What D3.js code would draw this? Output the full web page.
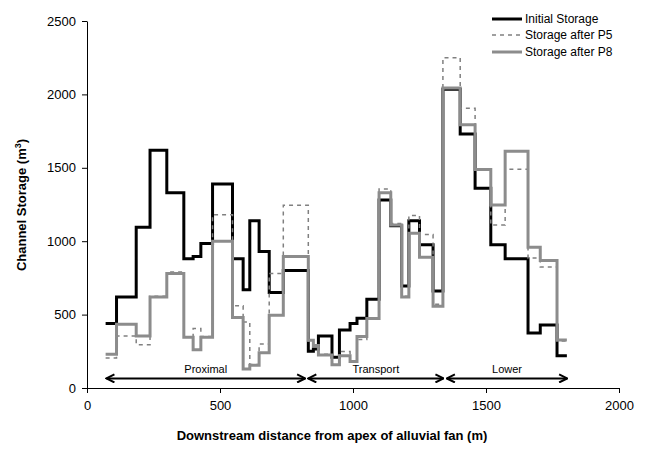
<!DOCTYPE html>
<html><head><meta charset="utf-8">
<script src="https://cdn.jsdelivr.net/npm/d3@7"></script>
<style>body{margin:0;background:#fff}</style>
</head><body>
<svg id="c" width="650" height="450"></svg>
<script>
// segment edges (m)
const edges = [70,111,185,237,300,364,399,428,472,547,587,612,647,685,738,832,851,870,921,949,989,1015,1052,1098,1142,1183,1210,1250,1301,1338,1403,1459,1518,1572,1658,1704,1767,1804];
const initialStorage = [440,620,1095,1620,1330,880,895,985,1390,880,670,1140,930,650,800,250,265,355,210,395,440,475,605,1280,1105,695,1140,975,660,2035,1730,1360,975,880,375,430,220];
const storageP5 = [205,355,295,625,790,345,405,350,1180,560,450,160,300,780,1245,320,280,230,160,248,185,330,474,1355,1120,625,1175,1045,570,2250,1905,1490,1110,1490,885,825,320];
const storageP8 = [230,435,355,620,780,345,260,345,1000,480,130,155,240,495,895,325,290,225,158,220,180,350,474,1330,1110,620,1055,890,557,2043,1793,1488,1246,1612,958,868,327];
const seriesNames = ["Initial Storage","Storage after P5","Storage after P8"];
const xTicks = [0,500,1000,1500,2000];
const yTicks = [0,500,1000,1500,2000,2500];
const regionNames = ["Proximal","Transport","Lower"];
const regionStart = [73,832,1353];
const regionEnd = [820,1340,1805];
const regionLevel = 65;

const svg = d3.select("#c");
const x = d3.scaleLinear().domain([0,2000]).range([87,619]);
const y = d3.scaleLinear().domain([0,2500]).range([388,21]);
const font = "Liberation Sans, Arial, sans-serif";

// axes
const gx = svg.append("g").attr("transform","translate(0,388)")
  .call(d3.axisBottom(x).tickValues(xTicks).tickFormat(d3.format("d")).tickSize(5).tickSizeOuter(0).tickPadding(8));
const gy = svg.append("g").attr("transform","translate(87,0)")
  .call(d3.axisLeft(y).tickValues(yTicks).tickFormat(d3.format("d")).tickSize(5).tickSizeOuter(0).tickPadding(6));
[gx,gy].forEach(g=>{
  g.selectAll("text").attr("font-family",font).attr("font-size",13).attr("fill","#000");
  g.selectAll("line,path").attr("stroke","#000").attr("stroke-width",1);
});

// series
function pts(vals){
  const p = vals.map((v,i)=>[edges[i],v]);
  p.push([edges[edges.length-1], vals[vals.length-1]]);
  return p;
}
const line = d3.line().x(d=>x(d[0])).y(d=>y(d[1])).curve(d3.curveStepAfter);
const styles = [
  {data:initialStorage, stroke:"#000", w:3, dash:null},
  {data:storageP5, stroke:"#808080", w:1.5, dash:"4,4"},
  {data:storageP8, stroke:"#8c8c8c", w:3, dash:null}
];
styles.forEach(s=>{
  svg.append("path").attr("d",line(pts(s.data))).attr("fill","none")
    .attr("stroke",s.stroke).attr("stroke-width",s.w)
    .attr("stroke-dasharray",s.dash).attr("stroke-linejoin","miter");
});

// region arrows
const defs = svg.append("defs");
defs.append("marker").attr("id","ah").attr("viewBox","0 0 10 10")
  .attr("refX",9).attr("refY",5).attr("markerWidth",10).attr("markerHeight",10)
  .attr("markerUnits","userSpaceOnUse").attr("orient","auto-start-reverse")
  .append("path").attr("d","M1,1 L9,5 L1,9").attr("fill","none").attr("stroke","#000").attr("stroke-width",2);
regionNames.forEach((n,i)=>{
  svg.append("line").attr("x1",x(regionStart[i])).attr("x2",x(regionEnd[i]))
    .attr("y1",y(regionLevel)).attr("y2",y(regionLevel))
    .attr("stroke","#000").attr("stroke-width",2)
    .attr("marker-start","url(#ah)").attr("marker-end","url(#ah)");
  svg.append("text").attr("x",(x(regionStart[i])+x(regionEnd[i]))/2).attr("y",y(regionLevel)-5)
    .attr("text-anchor","middle").attr("font-family",font).attr("font-size",11).text(n);
});

// axis titles
svg.append("text").attr("x",332).attr("y",440).attr("text-anchor","middle")
  .attr("font-family",font).attr("font-size",13).attr("font-weight","bold")
  .text("Downstream distance from apex of alluvial fan (m)");
const yt = svg.append("text").attr("transform","translate(26,205) rotate(-90)").attr("text-anchor","middle")
  .attr("font-family",font).attr("font-size",13).attr("font-weight","bold");
yt.append("tspan").text("Channel Storage (m");
yt.append("tspan").attr("baseline-shift","super").attr("font-size",9).text("3");
yt.append("tspan").text(")");

// legend
const legY = [19,35,52];
styles.forEach((s,i)=>{
  svg.append("line").attr("x1",492).attr("x2",522).attr("y1",legY[i]).attr("y2",legY[i])
    .attr("stroke",s.stroke).attr("stroke-width",s.w).attr("stroke-dasharray",s.dash);
  svg.append("text").attr("x",525).attr("y",legY[i]+4).attr("font-family",font).attr("font-size",12)
    .text(seriesNames[i]);
});
</script>
</body></html>
